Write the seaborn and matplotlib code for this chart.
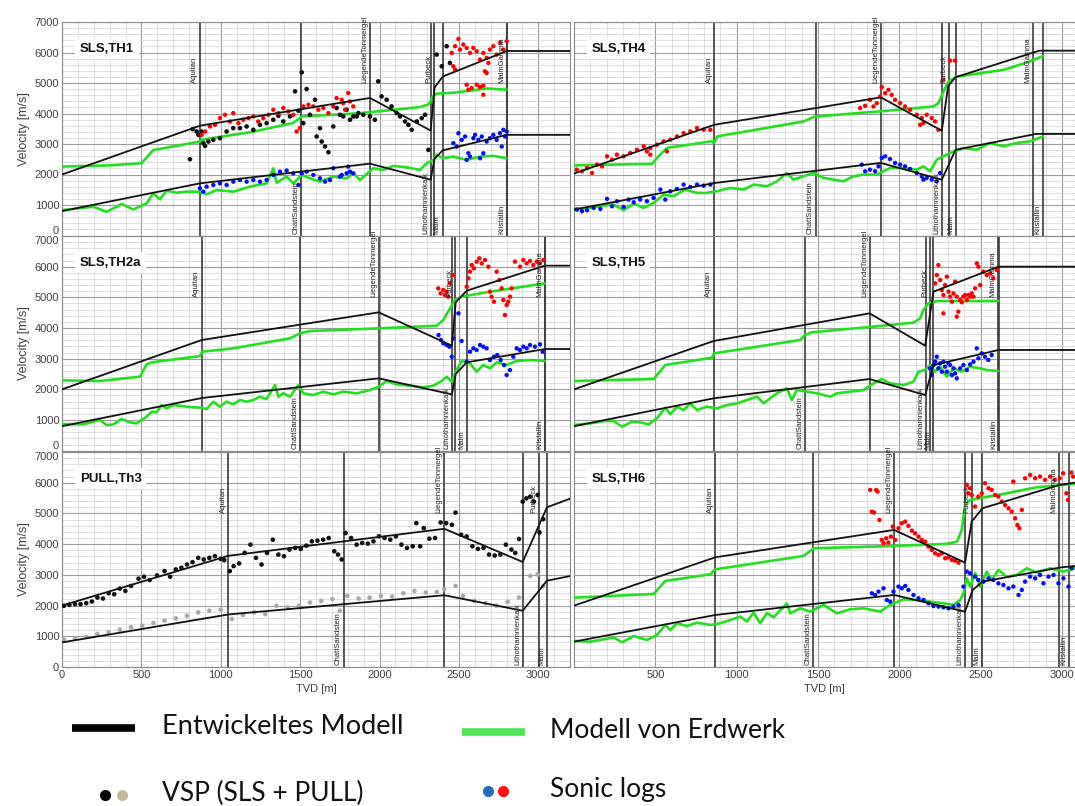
import matplotlib
matplotlib.use("Agg")
import matplotlib.pyplot as plt
from matplotlib.ticker import MultipleLocator
from matplotlib.lines import Line2D
import seaborn as sns

# ---------------------------------------------------------------- data (TVD [m], velocity [m/s])
# ---- SLS,TH1
th1_model_vp = [(0, 2000), (869, 3600), (1940, 4510), (2322, 3440), (2347, 4850), (2398, 5210), (2802, 6050), (3200, 6050)]
th1_model_vs = [(0, 800), (869, 1710), (1940, 2355), (2322, 1830), (2347, 2520), (2398, 2790), (2802, 3300), (3200, 3300)]
th1_erd_vp = [(0, 2260), (300, 2300), (502, 2370), (540, 2600), (575, 2800), (869, 3080), (880, 3140), (1200, 3400),
              (1457, 3690), (1510, 3900), (1877, 4010), (2254, 4210), (2310, 4300), (2335, 4550), (2360, 4650),
              (2485, 4690), (2675, 4820), (2802, 4780)]
th1_erd_vs = [(0, 833), (197, 943), (281, 778), (376, 1031), (449, 855), (533, 1053), (575, 1382), (617, 1184),
              (659, 1469), (722, 1403), (785, 1436), (869, 1436), (911, 1349), (974, 1491), (1079, 1436),
              (1184, 1601), (1289, 1711), (1331, 2204), (1352, 1732), (1415, 1930), (1457, 1711), (1510, 1985),
              (1562, 1875), (1625, 1765), (1709, 1930), (1793, 1875), (1835, 2039), (1877, 1820), (1961, 2204),
              (2024, 2149), (2087, 2281), (2171, 2237), (2255, 2149), (2297, 2368), (2339, 2478), (2360, 2643),
              (2402, 2533), (2465, 2588), (2549, 2478), (2633, 2588), (2717, 2610), (2801, 2533)]
th1_vsp_vp = [(806, 2500), (823, 3487), (848, 3410), (859, 3300), (880, 3410), (890, 3026), (901, 2939), (922, 3081),
              (953, 3136), (995, 3191), (1037, 3410), (1079, 3520), (1121, 3520), (1163, 3575), (1205, 3465),
              (1247, 3629), (1289, 3684), (1331, 3794), (1363, 3925), (1394, 3739), (1436, 3904), (1468, 4726),
              (1489, 4090), (1510, 5351), (1520, 3684), (1541, 4803), (1562, 3958), (1594, 4452), (1604, 3246),
              (1625, 3520), (1636, 3081), (1657, 2917), (1678, 2730), (1709, 3575), (1730, 4178), (1751, 3958),
              (1772, 3904), (1793, 4123), (1814, 3794), (1835, 3904), (1856, 3904), (1867, 4013), (1898, 3958),
              (1940, 3904), (1971, 3794), (1992, 5055), (2013, 4561), (2045, 4452), (2076, 4232), (2108, 4013),
              (2129, 3904), (2161, 3739), (2182, 3629), (2203, 3465), (2235, 3739), (2266, 3849), (2287, 3958),
              (2308, 2807), (2360, 5932), (2392, 5548), (2423, 6206), (2444, 5658)]
th1_sonic_vp = [(880, 3300), (901, 3410), (932, 3575), (964, 3629), (995, 3849), (1027, 3958), (1058, 3739),
                (1079, 4013), (1111, 3684), (1142, 3794), (1174, 3849), (1205, 3904), (1236, 3739), (1268, 3849),
                (1300, 3958), (1331, 4123), (1363, 4013), (1394, 4178), (1426, 4068), (1457, 3958), (1478, 3410),
                (1499, 3520), (1520, 4232), (1552, 4287), (1583, 4232), (1615, 4123), (1646, 4178), (1678, 4013),
                (1709, 4232), (1730, 4506), (1762, 4452), (1772, 4342), (1783, 4123), (1803, 4671), (1814, 4397),
                (1835, 4232), (2455, 5987), (2476, 6206), (2497, 6447), (2507, 6096), (2528, 6261), (2549, 6151),
                (2570, 5987), (2591, 6151), (2612, 6042), (2633, 5768), (2654, 5987), (2675, 5822), (2696, 6096),
                (2717, 6206), (2738, 5932), (2759, 6316), (2780, 6096), (2801, 6371), (2465, 5548), (2476, 5439),
                (2549, 4945), (2560, 4781), (2581, 4835), (2612, 4945), (2633, 4868), (2654, 4616), (2664, 5384),
                (2675, 5329), (2654, 4912), (2686, 5658)]
th1_sonic_vs = [(869, 1546), (890, 1436), (911, 1601), (953, 1656), (995, 1711), (1037, 1656), (1079, 1765),
                (1121, 1820), (1163, 1765), (1205, 1820), (1247, 1765), (1289, 1820), (1331, 1985), (1373, 2094),
                (1415, 2127), (1457, 2039), (1489, 1656), (1510, 2039), (1541, 2094), (1583, 1985), (1625, 1875),
                (1657, 1765), (1688, 1820), (1709, 2204), (1751, 1930), (1762, 1985), (1793, 2039), (1803, 2259),
                (1814, 2094), (1835, 2039), (2465, 3026), (2486, 2917), (2497, 3355), (2518, 3136), (2539, 3246),
                (2560, 2697), (2570, 2588), (2591, 3191), (2602, 3300), (2623, 3136), (2644, 3246), (2654, 2697),
                (2675, 3081), (2696, 3191), (2717, 3300), (2738, 3136), (2759, 3355), (2770, 2917), (2780, 3465),
                (2791, 3246), (2801, 3410), (2549, 2478), (2633, 2533)]
th1_form = [("Aquitan", 869), ("ChattSandstein", 1505), ("LiegendeTonmergel", 1940), ("Lithothamnienkalk", 2322),
            ("Purbeck", 2343), ("Malm", 2397), ("MalmGamma", 2802), ("Kristallin", 2805)]

# ---- SLS,TH4
th4_model_vp = [(0, 2030), (862, 3630), (1886, 4530), (2261, 3435), (2300, 4900), (2346, 5190), (2860, 6060), (3080, 6060)]
th4_model_vs = [(0, 850), (862, 1720), (1886, 2380), (2261, 1830), (2346, 2810), (2840, 3330), (3080, 3330)]
th4_erd_vp = [(0, 2300), (480, 2350), (520, 2600), (571, 2870), (848, 3090), (860, 3020), (880, 3250), (1100, 3450),
              (1411, 3740), (1482, 3900), (1882, 4070), (2209, 4230), (2240, 4340), (2271, 4720), (2302, 5050),
              (2353, 5210), (2640, 5430), (2800, 5700), (2885, 5890)]
th4_erd_vs = [(0, 872), (100, 905), (182, 981), (244, 1014), (305, 829), (367, 1047), (428, 905), (489, 1069),
              (551, 1341), (612, 1287), (684, 1505), (756, 1396), (817, 1396), (878, 1450), (960, 1559), (1042, 1505),
              (1104, 1668), (1186, 1614), (1248, 1777), (1308, 2050), (1349, 1832), (1411, 1941), (1472, 2050),
              (1534, 1887), (1595, 1832), (1656, 1777), (1718, 1941), (1779, 1996), (1861, 1996), (1943, 2214),
              (2025, 2214), (2107, 2159), (2148, 2268), (2189, 2105), (2230, 2486), (2271, 2595), (2312, 2704),
              (2394, 2868), (2475, 2813), (2558, 3032), (2640, 2923), (2721, 3032), (2803, 3086), (2885, 3250)]
th4_sonic_vp = [(18, 2159), (49, 2105), (80, 2214), (111, 2050), (141, 2323), (172, 2268), (203, 2595), (234, 2486),
                (264, 2650), (305, 2595), (346, 2704), (387, 2813), (428, 2923), (448, 2759), (469, 2868), (469, 2650),
                (510, 2977), (551, 3086), (571, 2759), (592, 3141), (633, 3250), (674, 3359), (715, 3413), (756, 3522),
                (797, 3468), (838, 3468), (1759, 4177), (1790, 4253), (1820, 4449), (1841, 4231), (1861, 4340),
                (1882, 4558), (1892, 4864), (1913, 4667), (1933, 4776), (1953, 4613), (1974, 4449), (2005, 4340),
                (2035, 4231), (2066, 4122), (2107, 3959), (2128, 3631), (2138, 3849), (2148, 3686), (2168, 3959),
                (2199, 3849), (2220, 3740), (2240, 3468), (2271, 5104), (2312, 5736), (2342, 5736)]
th4_sonic_vs = [(18, 851), (49, 796), (80, 829), (121, 905), (162, 872), (203, 1200), (234, 960), (264, 1123),
                (305, 938), (336, 1178), (367, 1090), (407, 1178), (448, 1123), (489, 1232), (531, 1505), (561, 1178),
                (592, 1450), (633, 1527), (674, 1668), (715, 1592), (756, 1668), (797, 1636), (838, 1668),
                (1769, 2323), (1790, 2105), (1820, 2159), (1851, 2105), (1872, 2268), (1892, 2541), (1913, 2595),
                (1943, 2508), (1974, 2377), (2005, 2323), (2035, 2268), (2066, 2181), (2107, 2050), (2138, 1941),
                (2148, 1832), (2168, 1887), (2199, 1832), (2230, 1777), (2251, 2050)]
th4_form = [("Aquitan", 862), ("ChattSandstein", 1486), ("LiegendeTonmergel", 1886), ("Lithothamnienkalk", 2265),
            ("Purbeck", 2305), ("Malm", 2346), ("MalmGamma", 2824), ("Kristallin", 2885)]

# ---- SLS,TH2a
th2a_model_vp = [(0, 2000), (880, 3609), (1995, 4511), (2456, 3424), (2480, 4837), (2549, 5217), (3042, 6033), (3200, 6033)]
th2a_model_vs = [(0, 800), (880, 1717), (1995, 2359), (2456, 1837), (2480, 2500), (2549, 2880), (3042, 3315), (3200, 3315)]
th2a_erd_vp = [(0, 2293), (239, 2272), (491, 2413), (533, 2815), (565, 2880), (869, 3087), (884, 3228), (1079, 3337),
               (1436, 3663), (1499, 3826), (1562, 3902), (1995, 3989), (2360, 4076), (2402, 4261), (2444, 4641),
               (2475, 4913), (2517, 5022), (2696, 5185), (2906, 5348), (3042, 5457)]
th2a_erd_vs = [(0, 870), (134, 859), (239, 1000), (281, 837), (323, 859), (376, 1033), (428, 924), (470, 891),
               (533, 1109), (565, 1272), (596, 1250), (628, 1489), (659, 1380), (701, 1489), (785, 1435), (869, 1402),
               (911, 1359), (953, 1598), (995, 1435), (1037, 1598), (1079, 1511), (1121, 1652), (1163, 1598),
               (1205, 1652), (1247, 1761), (1289, 1685), (1342, 2141), (1363, 1761), (1394, 1870), (1436, 1761),
               (1489, 2141), (1520, 1870), (1583, 1815), (1646, 1924), (1709, 1837), (1772, 1924), (1856, 1870),
               (1940, 1978), (1995, 2087), (2045, 2272), (2108, 2163), (2192, 2120), (2276, 2065), (2339, 2120),
               (2392, 2272), (2423, 2413), (2455, 2250), (2480, 2576), (2517, 2924), (2570, 2848), (2612, 2576),
               (2654, 2793), (2696, 2685), (2738, 2880), (2801, 2793), (2864, 2924), (2948, 2957), (3042, 2924)]
th2a_sonic_vp = [(2370, 5293), (2385, 5130), (2402, 5239), (2412, 5076), (2423, 5185), (2433, 5022), (2444, 5457),
                 (2461, 5728), (2549, 5348), (2560, 5620), (2570, 5837), (2581, 6054), (2595, 5946), (2612, 6163),
                 (2629, 6272), (2644, 6109), (2665, 6217), (2686, 6000), (2696, 5185), (2706, 5022), (2721, 4859),
                 (2738, 5837), (2755, 5565), (2769, 5293), (2780, 4913), (2790, 4424), (2801, 4750), (2811, 4859),
                 (2822, 5022), (2832, 5293), (2853, 6163), (2885, 6000), (2906, 6217), (2927, 6109), (2948, 6185),
                 (2969, 6054), (2990, 6163), (3011, 6109), (3032, 6217)]
th2a_sonic_vs = [(2372, 3772), (2387, 3609), (2402, 3500), (2423, 3446), (2440, 3391), (2455, 3065), (2465, 3663),
                 (2497, 4478), (2517, 3576), (2549, 2902), (2570, 3228), (2591, 3337), (2612, 3283), (2633, 3446),
                 (2654, 3391), (2675, 3337), (2696, 2957), (2721, 3065), (2742, 3120), (2763, 2957), (2785, 2793),
                 (2801, 2467), (2822, 2630), (2843, 3065), (2864, 3337), (2885, 3283), (2906, 3391), (2927, 3337),
                 (2948, 3446), (2979, 3391), (3011, 3467), (3028, 3228)]
th2a_form = [("Aquitan", 880), ("ChattSandstein", 1499), ("LiegendeTonmergel", 1995), ("Lithothamnienkalk", 2456),
             ("Purbeck", 2475), ("Malm", 2549), ("MalmGamma", 3040), ("Kristallin", 3044)]

# ---- SLS,TH5
th5_model_vp = [(0, 2000), (858, 3576), (1817, 4478), (2159, 3424), (2210, 5185), (2609, 6000), (3080, 6000)]
th5_model_vs = [(0, 800), (858, 1707), (1817, 2337), (2159, 1815), (2210, 2793), (2609, 3283), (3080, 3283)]
th5_erd_vp = [(0, 2272), (490, 2337), (561, 2793), (848, 3033), (862, 3174), (1391, 3609), (1421, 3772), (1462, 3859),
              (1817, 4033), (2087, 4174), (2128, 4315), (2148, 4587), (2179, 4804), (2230, 4880), (2609, 4880)]
th5_erd_vs = [(0, 837), (101, 891), (183, 967), (244, 967), (295, 783), (357, 946), (408, 924), (459, 859),
              (510, 1054), (561, 1402), (592, 1185), (633, 1435), (674, 1326), (715, 1543), (756, 1326), (817, 1435),
              (879, 1380), (940, 1489), (1002, 1543), (1063, 1652), (1125, 1761), (1166, 1543), (1206, 1707),
              (1247, 1870), (1309, 2033), (1339, 1652), (1370, 1978), (1432, 1924), (1493, 1870), (1575, 1761),
              (1616, 1870), (1698, 1924), (1780, 1978), (1841, 2196), (1892, 2337), (1944, 2196), (2026, 2141),
              (2087, 2250), (2118, 2576), (2159, 2630), (2189, 2793), (2220, 2576), (2251, 2739), (2292, 2413),
              (2333, 2685), (2384, 2576), (2435, 2739), (2496, 2685), (2537, 2630), (2609, 2598)]
th5_sonic_vp = [(2220, 5457), (2230, 5728), (2240, 6054), (2251, 5565), (2261, 5239), (2271, 5076), (2281, 5402),
                (2292, 5674), (2302, 5185), (2312, 5022), (2323, 4859), (2333, 5130), (2343, 5511), (2353, 5022),
                (2363, 4533), (2374, 4913), (2384, 4837), (2394, 5022), (2404, 5076), (2415, 4913), (2425, 5076),
                (2435, 5022), (2445, 5130), (2456, 5022), (2466, 5293), (2476, 6109), (2486, 6000), (2497, 5402),
                (2517, 5837), (2537, 5728), (2558, 5783), (2578, 5620), (2599, 5891), (2271, 4478), (2353, 4370)]
th5_sonic_vs = [(2210, 2793), (2220, 2902), (2230, 3065), (2240, 2685), (2251, 2848), (2261, 2576), (2271, 2902),
                (2281, 2739), (2292, 2576), (2302, 2848), (2312, 2793), (2323, 2467), (2333, 2685), (2343, 2522),
                (2353, 2359), (2374, 2685), (2394, 2793), (2415, 2630), (2435, 2815), (2456, 2902), (2476, 3337),
                (2486, 3011), (2507, 3174), (2527, 3065), (2547, 2957), (2568, 3120), (2189, 2685), (2200, 2467)]
th5_form = [("Aquitan", 858), ("ChattSandstein", 1421), ("LiegendeTonmergel", 1817), ("Lithothamnienkalk", 2162),
            ("Purbeck", 2189), ("Malm", 2205), ("MalmGamma", 2607), ("Kristallin", 2611)]

# ---- PULL,Th3
th3_model_vp = [(0, 2000), (1048, 3620), (2408, 4500), (2902, 3420), (3055, 5200), (3200, 5480)]
th3_model_vs = [(0, 800), (1048, 1710), (2408, 2337), (2902, 1831), (3055, 2811), (3200, 2960)]
th3_vsp_vp = [(12, 1992), (47, 2024), (82, 2046), (117, 2046), (153, 2078), (188, 2132), (223, 2261), (258, 2229),
              (294, 2401), (329, 2369), (364, 2552), (399, 2477), (435, 2638), (482, 2875), (517, 2940), (552, 2832),
              (599, 2983), (646, 3123), (681, 2940), (717, 3177), (752, 3231), (787, 3338), (822, 3414), (858, 3554),
              (893, 3500), (928, 3554), (963, 3608), (999, 3521), (1022, 3478), (1057, 3123), (1081, 3285),
              (1116, 3371), (1151, 3715), (1187, 3984), (1222, 3554), (1257, 3338), (1292, 3715), (1328, 4145),
              (1363, 3661), (1398, 3608), (1433, 3823), (1469, 3877), (1504, 3845), (1539, 3952), (1574, 4092),
              (1609, 4113), (1645, 4145), (1680, 4199), (1715, 3769), (1739, 3661), (1762, 3500), (1786, 4361),
              (1821, 4199), (1856, 3984), (1891, 4038), (1927, 4017), (1962, 4092), (1997, 4253), (2032, 4199),
              (2068, 4145), (2103, 4253), (2138, 3984), (2173, 3877), (2209, 3931), (2232, 4684), (2256, 3931),
              (2279, 4522), (2314, 4178), (2350, 4199), (2385, 4705), (2420, 4684), (2456, 4630), (2479, 5028),
              (2514, 4307), (2549, 4253), (2585, 3931), (2620, 3845), (2655, 3877), (2690, 3661), (2726, 3629),
              (2761, 3661), (2796, 3984), (2831, 3823), (2855, 3715), (2879, 4167), (2902, 5385), (2925, 5492),
              (2949, 5546), (2972, 5385), (2996, 5600), (3008, 4382), (3031, 4813)]
th3_vsp_vs = [(12, 894), (82, 937), (153, 980), (223, 1077), (294, 1131), (364, 1217), (435, 1292), (505, 1346),
              (576, 1432), (646, 1508), (717, 1583), (787, 1669), (858, 1777), (928, 1831), (999, 1863), (1069, 1562),
              (1140, 1691), (1210, 1777), (1280, 1723), (1351, 1992), (1422, 1938), (1492, 1992), (1562, 2100),
              (1633, 2154), (1703, 2208), (1750, 1831), (1797, 2315), (1868, 2229), (1938, 2261), (2009, 2315),
              (2079, 2294), (2150, 2401), (2220, 2477), (2291, 2423), (2361, 2444), (2408, 2530), (2479, 2638),
              (2526, 2315), (2596, 2154), (2667, 2078), (2737, 1992), (2808, 2121), (2879, 2261), (2949, 2961),
              (2996, 3015), (3031, 2638)]
th3_form = [("Aquitan", 1048), ("ChattSandstein", 1774), ("LiegendeTonmergel", 2408), ("Lithothamnienkalk", 2902),
            ("Purbeck", 3003), ("Malm", 3055)]

# ---- SLS,TH6
th6_model_vp = [(0, 1998), (869, 3572), (1968, 4463), (2404, 3398), (2445, 4734), (2511, 5168), (2984, 5928), (3080, 6004)]
th6_model_vs = [(0, 825), (869, 1694), (1968, 2345), (2404, 1802), (2451, 2508), (2511, 2780), (2984, 3236), (3080, 3290)]
th6_erd_vp = [(0, 2258), (490, 2378), (561, 2801), (838, 3018), (869, 3181), (1411, 3616), (1473, 3865), (1968, 3941),
              (2289, 4007), (2355, 4083), (2384, 4463), (2404, 5277), (2435, 5440), (2640, 5635), (2845, 5852),
              (3080, 5961)]
th6_erd_vs = [(0, 847), (101, 825), (183, 901), (244, 966), (295, 803), (367, 1010), (449, 879), (510, 1042),
              (561, 1368), (592, 1205), (633, 1422), (694, 1335), (756, 1444), (838, 1368), (899, 1422), (961, 1531),
              (1022, 1640), (1063, 1477), (1104, 1770), (1145, 1422), (1186, 1759), (1227, 1618), (1309, 2074),
              (1330, 1748), (1391, 1911), (1452, 1802), (1534, 2020), (1616, 1748), (1698, 1878), (1780, 1911),
              (1882, 1802), (1944, 2020), (2026, 2204), (2108, 2182), (2189, 2128), (2271, 2074), (2333, 2020),
              (2374, 2182), (2394, 2400), (2415, 2888), (2435, 2617), (2466, 3051), (2497, 2617), (2537, 3105),
              (2568, 2834), (2609, 3160), (2660, 2942), (2722, 2997), (2783, 3214), (2845, 3073), (2927, 3214),
              (3009, 3105), (3080, 3214)]
th6_sonic_vp = [(1821, 5765), (1831, 5060), (1845, 5027), (1858, 5765), (1866, 5711), (1878, 4788), (1892, 4137),
                (1903, 4028), (1919, 4191), (1933, 4050), (1948, 4245), (1960, 4571), (1974, 4137), (1995, 4517),
                (2015, 4680), (2036, 4734), (2056, 4593), (2077, 4441), (2097, 4354), (2118, 4245), (2138, 4137),
                (2159, 4083), (2179, 3920), (2200, 3811), (2220, 3702), (2241, 3648), (2261, 3702), (2282, 3540),
                (2302, 3572), (2323, 3485), (2343, 3464), (2364, 3398), (2415, 5928), (2425, 5657), (2435, 5820),
                (2445, 5603), (2466, 5223), (2486, 5548), (2507, 5657), (2527, 5983), (2548, 5820), (2568, 5765),
                (2589, 5603), (2609, 5548), (2630, 5385), (2650, 5277), (2671, 5168), (2691, 5060), (2712, 4843),
                (2726, 4625), (2738, 4517), (2701, 6037), (2753, 5114), (2773, 6145), (2804, 6254), (2835, 6145),
                (2865, 6200), (2896, 6091), (2927, 6200), (2956, 6091), (2986, 6145), (3007, 6308), (3027, 5657),
                (3037, 5440), (3058, 6330), (3068, 6200)]
th6_sonic_vs = [(1831, 2400), (1852, 2345), (1872, 2454), (1903, 2562), (1923, 2182), (1944, 2128), (1964, 2454),
                (1995, 2617), (2015, 2562), (2036, 2638), (2056, 2508), (2087, 2345), (2118, 2237), (2149, 2182),
                (2179, 2074), (2210, 1987), (2241, 1965), (2271, 1943), (2302, 1911), (2333, 1965), (2364, 2020),
                (2394, 2617), (2415, 3105), (2435, 3051), (2466, 2942), (2486, 2834), (2517, 2780), (2548, 2888),
                (2578, 2834), (2609, 2725), (2640, 2671), (2671, 2562), (2701, 2617), (2733, 2345), (2753, 2508),
                (2773, 2780), (2804, 2942), (2835, 2888), (2865, 2997), (2886, 2725), (2917, 2942), (2948, 2997),
                (2978, 2725), (3009, 2888), (3040, 2617), (3060, 3214)]
th6_form = [("Aquitan", 869), ("ChattSandstein", 1469), ("LiegendeTonmergel", 1968), ("Lithothamnienkalk", 2404),
            ("Purbeck", 2449), ("Malm", 2511), ("MalmGamma", 2984), ("Kristallin", 3043)]

panel_titles = ["SLS,TH1", "SLS,TH4", "SLS,TH2a", "SLS,TH5", "PULL,Th3", "SLS,TH6"]
x_ticks_left = [0, 500, 1000, 1500, 2000, 2500, 3000]
x_ticks_right = [500, 1000, 1500, 2000, 2500, 3000]
y_ticks = [0, 1000, 2000, 3000, 4000, 5000, 6000, 7000]
legend_labels = ["Entwickeltes Modell", "Modell von Erdwerk", "VSP (SLS + PULL)", "Sonic logs"]

# ---------------------------------------------------------------- style
sns.set_theme(style="white")
plt.rcParams["font.family"] = ["Liberation Sans", "DejaVu Sans"]

BLACK = "#111111"
GREEN = "#22e01e"
RED = "#ff0000"
BLUE = "#0010ff"
GRAYPT = "#a9a9a9"
FORM = "#3c3c3c"
TXT = "#404040"

top_labels = {"Aquitan", "LiegendeTonmergel", "Purbeck", "MalmGamma"}

panels = [
    dict(title=panel_titles[0], mvp=th1_model_vp, mvs=th1_model_vs, evp=th1_erd_vp, evs=th1_erd_vs,
         vsp_vp=th1_vsp_vp, vsp_vs=None, svp=th1_sonic_vp, svs=th1_sonic_vs, form=th1_form),
    dict(title=panel_titles[1], mvp=th4_model_vp, mvs=th4_model_vs, evp=th4_erd_vp, evs=th4_erd_vs,
         vsp_vp=None, vsp_vs=None, svp=th4_sonic_vp, svs=th4_sonic_vs, form=th4_form),
    dict(title=panel_titles[2], mvp=th2a_model_vp, mvs=th2a_model_vs, evp=th2a_erd_vp, evs=th2a_erd_vs,
         vsp_vp=None, vsp_vs=None, svp=th2a_sonic_vp, svs=th2a_sonic_vs, form=th2a_form),
    dict(title=panel_titles[3], mvp=th5_model_vp, mvs=th5_model_vs, evp=th5_erd_vp, evs=th5_erd_vs,
         vsp_vp=None, vsp_vs=None, svp=th5_sonic_vp, svs=th5_sonic_vs, form=th5_form),
    dict(title=panel_titles[4], mvp=th3_model_vp, mvs=th3_model_vs, evp=None, evs=None,
         vsp_vp=th3_vsp_vp, vsp_vs=th3_vsp_vs, svp=None, svs=None, form=th3_form),
    dict(title=panel_titles[5], mvp=th6_model_vp, mvs=th6_model_vs, evp=th6_erd_vp, evs=th6_erd_vs,
         vsp_vp=None, vsp_vs=None, svp=th6_sonic_vp, svs=th6_sonic_vs, form=th6_form),
]

W, H = 1075, 806
fig = plt.figure(figsize=(W / 100, H / 100), dpi=100)

col_x = [(62, 570), (574, 1075)]
row_y = [(22, 235.5), (236, 450.7), (452, 667)]
xmax = [3200, 3080]


def line(ax, pts, color, lw, z):
    xs = [p[0] for p in pts]
    ys = [p[1] for p in pts]
    sns.lineplot(x=xs, y=ys, ax=ax, color=color, lw=lw, sort=False, estimator=None, zorder=z)


def dots(ax, pts, color, s=10):
    xs = [p[0] for p in pts]
    ys = [p[1] for p in pts]
    sns.scatterplot(x=xs, y=ys, ax=ax, color=color, s=s, linewidth=0, edgecolor="none", zorder=4)


for i, p in enumerate(panels):
    r, c = divmod(i, 2)
    x0, x1 = col_x[c]
    y0, y1 = row_y[r]
    ax = fig.add_axes([x0 / W, 1 - y1 / H, (x1 - x0) / W, (y1 - y0) / H])

    # formation tops
    for name, xf in p["form"]:
        ax.axvline(xf, color=FORM, lw=1.2, zorder=1.5)
        yy = 5000 if name in top_labels else 60
        ax.annotate(name, xy=(xf, yy), xytext=(-1.2, 0), textcoords="offset points", rotation=90,
                    ha="right", va="bottom", fontsize=5.5, color="#222222", annotation_clip=False, zorder=6)

    if p["evp"] is not None:
        line(ax, p["evp"], GREEN, 1.9, 3)
        line(ax, p["evs"], GREEN, 1.9, 3)
    if p["vsp_vp"] is not None:
        dots(ax, p["vsp_vp"], BLACK, 11)
    if p["vsp_vs"] is not None:
        dots(ax, p["vsp_vs"], GRAYPT, 11)
    if p["svp"] is not None:
        dots(ax, p["svp"], RED)
        dots(ax, p["svs"], BLUE)
    line(ax, p["mvp"], BLACK, 1.3, 5)
    line(ax, p["mvs"], BLACK, 1.3, 5)

    ax.set_xlim(0, xmax[c])
    ax.set_ylim(0, 7000)
    ax.set_axisbelow(True)
    ax.xaxis.set_major_locator(MultipleLocator(500))
    ax.xaxis.set_minor_locator(MultipleLocator(100))
    ax.yaxis.set_major_locator(MultipleLocator(1000))
    ax.yaxis.set_minor_locator(MultipleLocator(200))
    ax.grid(which="major", color="#9c9c9c", lw=0.8)
    ax.grid(which="minor", color="#d3d3d3", lw=0.5)
    ax.tick_params(which="both", length=0, labelsize=8, labelcolor=TXT, pad=2)
    for s in ax.spines.values():
        s.set_color("#8a8a8a")
        s.set_linewidth(0.8)

    ax.text(0.035, 0.875, p["title"], transform=ax.transAxes, fontsize=9.5, fontweight="bold", color="#111111",
            va="center", ha="left", zorder=7,
            bbox=dict(boxstyle="square,pad=0.35", fc="white", ec="none"))

    ax.set_yticks(y_ticks)
    if c == 0:
        ax.set_yticklabels([str(v) for v in y_ticks])
        ax.set_ylabel("Velocity [m/s]", fontsize=9, color=TXT, labelpad=3)
        ticks_y = ax.yaxis.get_major_ticks()
        if r < 2:
            ticks_y[0].label1.set_verticalalignment("bottom")
        if r > 0:
            ticks_y[-1].label1.set_verticalalignment("top")
    else:
        ax.set_yticklabels([])
        ax.set_ylabel("")
    if r == 2:
        ticks = x_ticks_left if c == 0 else x_ticks_right
        ax.set_xticks(ticks)
        ax.set_xticklabels([str(t) for t in ticks])
        ax.set_xlabel("TVD [m]", fontsize=8, color=TXT, labelpad=3)
    else:
        ax.set_xticks(x_ticks_left)
        ax.set_xticklabels([])
        ax.set_xlabel("")
    ax.xaxis.set_minor_locator(MultipleLocator(100))

# ---------------------------------------------------------------- legend (figure-level)
lfont = ["Lato", "DejaVu Sans"]
fig.add_artist(Line2D([72 / W, 135 / W], [1 - 728 / H, 1 - 728 / H], color="black", lw=5.5,
                      solid_capstyle="butt"))
fig.text(162 / W, 1 - 727 / H, legend_labels[0], fontsize=19.5, family=lfont, va="center", ha="left", color="#111111")
fig.add_artist(Line2D([462 / W, 525 / W], [1 - 732 / H, 1 - 732 / H], color="#4fe65a", lw=5.5,
                      solid_capstyle="butt"))
fig.text(550 / W, 1 - 731 / H, legend_labels[1], fontsize=19, family=lfont, va="center", ha="left", color="#111111")
fig.add_artist(Line2D([105 / W], [1 - 795 / H], marker="o", ms=7, color="black", lw=0))
fig.add_artist(Line2D([122 / W], [1 - 795 / H], marker="o", ms=7, color="#c5bb99", lw=0))
fig.text(162 / W, 1 - 793 / H, legend_labels[2], fontsize=19, family=lfont, va="center", ha="left", color="#111111")
fig.add_artist(Line2D([488 / W], [1 - 791 / H], marker="o", ms=7, color="#1f6fc0", lw=0))
fig.add_artist(Line2D([503 / W], [1 - 791 / H], marker="o", ms=7, color="#ff1010", lw=0))
fig.text(550 / W, 1 - 790 / H, legend_labels[3], fontsize=19, family=lfont, va="center", ha="left", color="#111111")

fig.savefig("out.png", dpi=100)
